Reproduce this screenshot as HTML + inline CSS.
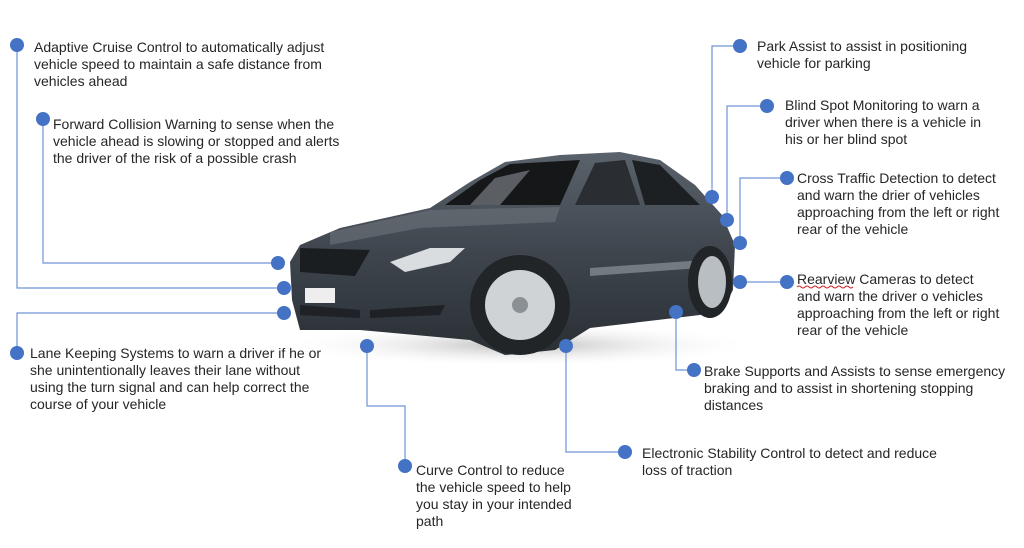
<!DOCTYPE html>
<html><head><meta charset="utf-8"><style>
html,body{margin:0;padding:0;background:#fff;}
svg{display:block;}
text{font-family:"Liberation Sans",sans-serif;font-size:14px;fill:#262626;}
</style></head><body>
<svg width="1024" height="548" viewBox="0 0 1024 548" xmlns="http://www.w3.org/2000/svg">
<defs>
<linearGradient id="bd" x1="0" y1="0" x2="0" y2="1"><stop offset="0" stop-color="#5a626b"/><stop offset="0.5" stop-color="#3e454d"/><stop offset="1" stop-color="#2a2f35"/></linearGradient>
<radialGradient id="sh" cx="0.5" cy="0.5" r="0.5"><stop offset="0" stop-color="#bbb"/><stop offset="1" stop-color="#fff" stop-opacity="0"/></radialGradient>
</defs>
<ellipse cx="520" cy="345" rx="240" ry="22" fill="url(#sh)"/>
<path d="M300,330 L292,300 L290,262 L300,245 L340,228 L430,208 L470,182 L505,162 L560,155 L620,152 L660,160 L695,185 L722,215 L735,245 L733,290 L725,305 L700,315 L590,328 L555,350 L505,355 L470,340 L360,330 Z" fill="url(#bd)"/>
<path d="M445,205 L480,180 L510,164 L580,160 L560,205 Z" fill="#151719"/>
<path d="M575,205 L595,163 L625,160 L640,205 Z" fill="#2a2d31"/>
<path d="M645,205 L632,160 L660,165 L700,205 Z" fill="#1d2023"/>
<path d="M470,205 L495,178 L530,170 L500,205 Z" fill="#8a9096" opacity="0.6"/>
<path d="M330,232 L430,210 L560,207 L555,222 L420,228 L330,245 Z" fill="#6c737a" opacity="0.6"/>
<path d="M300,248 L370,250 L355,276 L300,272 Z" fill="#1b1e21"/>
<path d="M390,262 L430,248 L465,248 L450,262 L405,272 Z" fill="#d9dde0"/>
<rect x="305" y="288" width="30" height="15" fill="#eee"/>
<path d="M300,305 L360,310 L360,318 L300,315 Z" fill="#1e2125"/>
<path d="M370,310 L445,305 L440,315 L370,318 Z" fill="#1e2125"/>
<path d="M590,268 L705,260 L700,268 L590,276 Z" fill="#9aa0a6" opacity="0.6"/>
<circle cx="520" cy="305" r="50" fill="#222528"/>
<circle cx="520" cy="305" r="35" fill="#cfd3d6"/>
<circle cx="520" cy="305" r="8" fill="#8b9095"/>
<ellipse cx="710" cy="282" rx="22" ry="36" fill="#222528"/>
<ellipse cx="712" cy="282" rx="14" ry="26" fill="#b9bec2"/>
<g fill="none" stroke="#6f93d6" stroke-width="1.2">
<polyline points="17,45 17,288 284,288"/>
<polyline points="43,119 43,263 278,263"/>
<polyline points="17,353 17,313 284,313"/>
<polyline points="405,466 405,406 367,406 367,346"/>
<polyline points="625,452 566,452 566,346"/>
<polyline points="740,46 712,46 712,197"/>
<polyline points="767,106 727,106 727,220"/>
<polyline points="787,178 740,178 740,243"/>
<polyline points="787,282 740,282"/>
<polyline points="694,370 676,370 676,312"/>
</g>
<g fill="#4472c4">
<circle cx="17" cy="45" r="7"/><circle cx="284" cy="288" r="7"/>
<circle cx="43" cy="119" r="7"/><circle cx="278" cy="263" r="7"/>
<circle cx="17" cy="353" r="7"/><circle cx="284" cy="313" r="7"/>
<circle cx="405" cy="466" r="7"/><circle cx="367" cy="346" r="7"/>
<circle cx="625" cy="452" r="7"/><circle cx="566" cy="346" r="7"/>
<circle cx="740" cy="46" r="7"/><circle cx="712" cy="197" r="7"/>
<circle cx="767" cy="106" r="7"/><circle cx="727" cy="220" r="7"/>
<circle cx="787" cy="178" r="7"/><circle cx="740" cy="243" r="7"/>
<circle cx="787" cy="282" r="7"/><circle cx="740" cy="282" r="7"/>
<circle cx="694" cy="370" r="7"/><circle cx="676" cy="312" r="7"/>
</g>
<text x="34" y="52">Adaptive Cruise Control to automatically adjust</text>
<text x="34" y="69">vehicle speed to maintain a safe distance from</text>
<text x="34" y="86">vehicles ahead</text>
<text x="53" y="129">Forward Collision Warning to sense when the</text>
<text x="53" y="146">vehicle ahead is slowing or stopped and alerts</text>
<text x="53" y="163">the driver of the risk of a possible crash</text>
<text x="30" y="358">Lane Keeping Systems to warn a driver if he or</text>
<text x="30" y="375">she unintentionally leaves their lane without</text>
<text x="30" y="392">using the turn signal and can help correct the</text>
<text x="30" y="409">course of your vehicle</text>
<text x="416" y="475">Curve Control to reduce</text>
<text x="416" y="492">the vehicle speed to help</text>
<text x="416" y="509">you stay in your intended</text>
<text x="416" y="526">path</text>
<text x="642" y="458">Electronic Stability Control to detect and reduce</text>
<text x="642" y="475">loss of traction</text>
<text x="757" y="51">Park Assist to assist in positioning</text>
<text x="757" y="68">vehicle for parking</text>
<text x="785" y="110">Blind Spot Monitoring to warn a</text>
<text x="785" y="127">driver when there is a vehicle in</text>
<text x="785" y="144">his or her blind spot</text>
<text x="797" y="183">Cross Traffic Detection to detect</text>
<text x="797" y="200">and warn the drier of vehicles</text>
<text x="797" y="217">approaching from the left or right</text>
<text x="797" y="234">rear of the vehicle</text>
<text x="797" y="284">Rearview Cameras to detect</text>
<text x="797" y="301">and warn the driver o vehicles</text>
<text x="797" y="318">approaching from the left or right</text>
<text x="797" y="335">rear of the vehicle</text>
<path d="M797,287 q2,-2 4,0 t4,0 t4,0 t4,0 t4,0 t4,0 t4,0 t4,0 t4,0 t4,0 t4,0 t4,0 t4,0 t4,0" stroke="#d02020" stroke-width="1" fill="none"/>
<text x="704" y="376">Brake Supports and Assists to sense emergency</text>
<text x="704" y="393">braking and to assist in shortening stopping</text>
<text x="704" y="410">distances</text>
</svg>
</body></html>
